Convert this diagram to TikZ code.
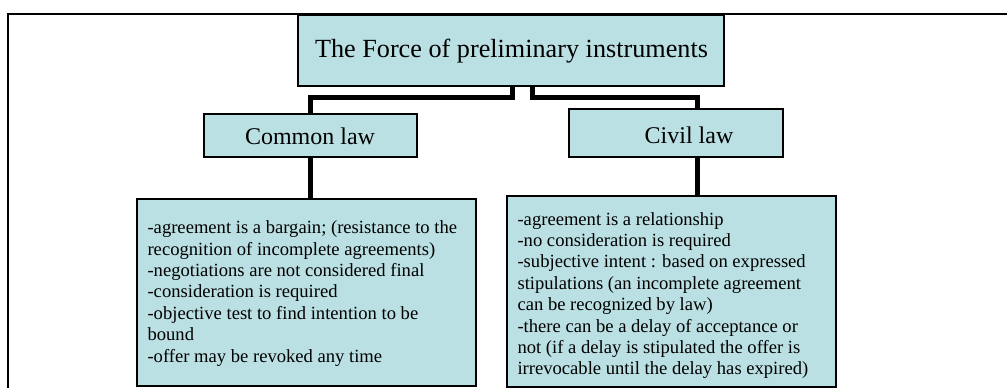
\documentclass[tikz,border=0pt]{standalone}
\usepackage{fontspec}
\setmainfont{Liberation Serif}
\usetikzlibrary{backgrounds}
\definecolor{boxfill}{RGB}{187,224,227}
\tikzset{
  panel/.style={draw=black, line width=1.3pt, fill=boxfill, rectangle, inner sep=0pt},
  headtext/.style={font=\fontsize{26.2}{30}\selectfont, inner sep=0pt},
  lawtext/.style={font=\fontsize{24}{27}\selectfont, inner sep=0pt},
  listtext/.style={font=\fontsize{18.6}{21.4}\selectfont, align=left, inner sep=0pt, anchor=west},
  conn/.style={line width=5pt, line join=miter, line cap=rect},
}
\begin{document}
\begin{tikzpicture}[x=1pt, y=-1pt]
\useasboundingbox (0,0) rectangle (1007,388);

% outer frame (top and left edges)
\draw[line width=2.2pt] (8,388) -- (8,14) -- (1007,14);

% title box
\node[panel, minimum width=426pt, minimum height=71pt] (title) at (511,50.5) {};
\node[headtext] (titletext) at (511.5,51) {The Force of preliminary instruments};

% second level
\node[panel, minimum width=213pt, minimum height=43pt] (common) at (310.5,135.5) {};
\node[lawtext] (commontext) at (310,136) {Common law};
\node[panel, minimum width=214pt, minimum height=48pt] (civil) at (676,133) {};
\node[lawtext] (civiltext) at (689,135) {Civil law};

% detail boxes
\node[panel, minimum width=339pt, minimum height=187pt] (lbox) at (306.5,292.5) {};
\node[listtext] (ltext) at ([xshift=11pt,yshift=-1pt]lbox.west) {%
-agreement is a bargain; (resistance to the\\
recognition of incomplete agreements)\\
-negotiations are not considered final\\
-consideration is required\\
-objective test to find intention to be\\
bound\\
-offer may be revoked any time};

\node[panel, minimum width=329pt, minimum height=191pt] (rbox) at (671.5,291.5) {};
\node[listtext] (rtext) at ([xshift=11pt,yshift=-4pt]rbox.west) {%
-agreement is a relationship\\
-no consideration is required\\
-subjective intent : based on expressed\\
stipulations (an incomplete agreement\\
can be recognized by law)\\
-there can be a delay of acceptance or\\
not (if a delay is stipulated the offer is\\
irrevocable until the delay has expired)};

% connectors, behind the boxes
\begin{scope}[on background layer]
\draw[conn] ([xshift=1pt]title.south) -- ++(0,11) -| (common.north);
\draw[conn] ([xshift=21pt]title.south) -- ++(0,11) -| ([xshift=21pt]civil.north);
\draw[conn] (common.south) -- (common.south |- lbox.north);
\draw[conn] ([xshift=21pt]civil.south) -- ([xshift=21pt]civil.south |- rbox.north);
\end{scope}
\end{tikzpicture}
\end{document}
